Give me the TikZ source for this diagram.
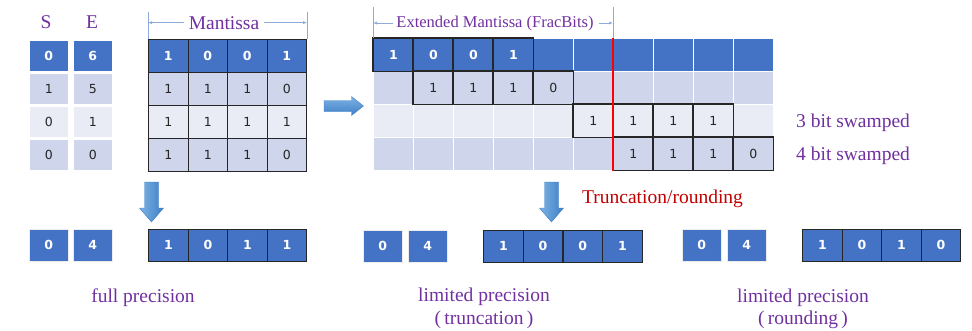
\documentclass[tikz,border=0pt]{standalone}
\usepackage{fontspec}
\setmainfont{Liberation Serif}
\setsansfont{DejaVu Sans}
\usetikzlibrary{arrows.meta}
\definecolor{dblue}{HTML}{4472C4}
\definecolor{lblue}{HTML}{CFD5EA}
\definecolor{vlblue}{HTML}{E9EBF5}
\definecolor{purp}{HTML}{7030A0}
\definecolor{dred}{HTML}{C00000}
\definecolor{arrowblue}{HTML}{5B9BD5}
\definecolor{arrowlight}{HTML}{7DB3E6}
\definecolor{arrowdark}{HTML}{3F7FC4}
\definecolor{dimblue}{HTML}{8EA9DB}
\begin{document}
\begin{tikzpicture}[x=1pt,y=-1pt,
  lab/.style={font=\fontsize{19.5}{20}\selectfont, text=purp, anchor=base, inner sep=0},
  smalllab/.style={font=\fontsize{16.5}{17}\selectfont, text=purp, anchor=base, inner sep=0},
  cellbase/.style={rectangle, anchor=north west, inner sep=0, font=\sffamily\fontsize{12.5}{12.5}\selectfont},
  hrow/.style={fill=dblue, text=white, font=\sffamily\bfseries\fontsize{12.5}{12.5}\selectfont},
  lrow/.style={fill=lblue, text=black!85},
  vrow/.style={fill=vlblue, text=black!85},
  secell/.style={cellbase, minimum width=38.5pt, minimum height=31pt, draw=white, line width=1pt},
  mcell/.style={cellbase, minimum width=39.5pt, minimum height=33pt, draw=black!85, line width=1.1pt},
  ecell/.style={cellbase, minimum width=40pt, minimum height=33pt, draw=white, line width=0.8pt},
  bcell/.style={cellbase, hrow, minimum width=38.5pt, minimum height=32pt, draw=white!85!gray, line width=0.8pt},
  rcell/.style={cellbase, hrow, minimum width=39.6pt, minimum height=31.5pt, draw=black!85, line width=1.1pt},
  bitline/.style={draw=black!85, line width=1.1pt},
  redline/.style={draw=red, line width=1.6pt},
  dimline/.style={draw=dimblue, line width=0.6pt},
  dimarrow/.style={draw=dimblue, line width=0.6pt, -{Latex[length=4pt,width=3pt]}},
  fatarrow/.style={draw=arrowdark, line width=0.4pt, line join=round},
]
\useasboundingbox (0,0) rectangle (972,330);

% ---- S / E table
\node[lab] (S) at (46,28) {S};
\node[lab] (E) at (92,28) {E};
\foreach \r/\s/\e/\st in {0/0/6/hrow, 1/1/5/lrow, 2/0/1/vrow, 3/0/0/lrow} {
  \node[secell,\st] (s-\r) at (29,{40+33*\r}) {\s};
  \node[secell,\st] (ex-\r) at (73,{40+33*\r}) {\e};
}

% ---- Mantissa table
\foreach \r/\st/\bits in {0/hrow/{1,0,0,1}, 1/lrow/{1,1,1,0}, 2/vrow/{1,1,1,1}, 3/lrow/{1,1,1,0}} {
  \foreach \b [count=\c from 0] in \bits {
    \node[mcell,\st] (m-\r-\c) at ({148+39.5*\c},{39+33*\r}) {\b};
  }
}
\node[lab] (mant) at (224,29) {Mantissa};
\draw[dimline] (m-0-0.north west) -- ++(0,-27);
\draw[dimline] (m-0-3.north east) -- ++(0,-27);
\draw[dimarrow, shorten <=5pt] (mant.west) -- (mant.west -| m-0-0.north west);
\draw[dimarrow, shorten <=5pt] (mant.east) -- (mant.east -| m-0-3.north east);

% ---- big right arrow
\shade[fatarrow, top color=arrowlight, bottom color=arrowdark]
  (324,100.5) -- (351.5,100.5) -- (351.5,96.5) -- (363.5,106) -- (351.5,115.5) -- (351.5,111.5) -- (324,111.5) -- cycle;

% ---- Extended table
\foreach \r/\st/\bits in {
  0/hrow/{1,0,0,1,{},{},{},{},{},{}},
  1/lrow/{{},1,1,1,0,{},{},{},{},{}},
  2/vrow/{{},{},{},{},{},1,1,1,1,{}},
  3/lrow/{{},{},{},{},{},{},1,1,1,0}} {
  \foreach \b [count=\c from 0] in \bits {
    \node[ecell,\st] (e-\r-\c) at ({373+40*\c},{38+33*\r}) {\b};
  }
}
\foreach \r/\a/\b in {0/0/3, 1/1/4, 2/5/8, 3/6/9} {
  \foreach \c in {\a,...,\b} {
    \draw[bitline] (e-\r-\c.north west) rectangle (e-\r-\c.south east);
  }
}
\draw[redline] (e-0-6.north west) -- (e-3-6.south west);
\node[smalllab] (emant) at (495,27) {Extended Mantissa (FracBits)};
\draw[dimline] (e-0-0.north west) -- ++(0,-31);
\draw[dimline] (e-0-6.north west) -- ++(0,-31);
\draw[dimarrow, shorten <=3pt] (emant.west) -- (emant.west -| e-0-0.north west);
\draw[dimarrow, shorten <=5pt] (emant.east) -- (emant.east -| e-0-6.north west);

\node[lab, anchor=base west] (sw3) at (796,127) {3 bit swamped};
\node[lab, anchor=base west] (sw4) at (796,160) {4 bit swamped};

% ---- down arrows and truncation label
\foreach \cx in {151.5, 551.5} {
  \shade[fatarrow, left color=arrowlight, right color=arrowdark]
    ({\cx-7},182) -- ({\cx+7},182) -- ({\cx+7},208) -- ({\cx+12},208) -- (\cx,222)
    -- ({\cx-12},208) -- ({\cx-7},208) -- cycle;
}
\node[lab, text=dred, anchor=base west] (trunc) at (582,203) {Truncation/rounding};

% ---- results: full precision
\node[bcell] (fs) at (29,229) {0};
\node[bcell] (fe) at (73,229) {4};
\foreach \b [count=\c from 0] in {1,0,1,1} {
  \node[rcell] (fm-\c) at ({148+39.5*\c},229) {\b};
}
\node[lab] (fp) at (143,302) {full precision};

% ---- results: truncation
\node[bcell] (ts) at (363,230) {0};
\node[bcell] (te) at (408,230) {4};
\foreach \b [count=\c from 0] in {1,0,0,1} {
  \node[rcell] (tm-\c) at ({483+39.7*\c},230) {\b};
}
\node[lab] (tp1) at (484,301) {limited precision};
\node[lab] (tp2) at (484,324) {(\,truncation\,)};

% ---- results: rounding
\node[bcell] (rs) at (682,229) {0};
\node[bcell] (re) at (727,229) {4};
\foreach \b [count=\c from 0] in {1,0,1,0} {
  \node[rcell] (rm-\c) at ({802+39.5*\c},229) {\b};
}
\node[lab] (rp1) at (803,302) {limited precision};
\node[lab] (rp2) at (803,324) {(\,rounding\,)};
\end{tikzpicture}
\end{document}
